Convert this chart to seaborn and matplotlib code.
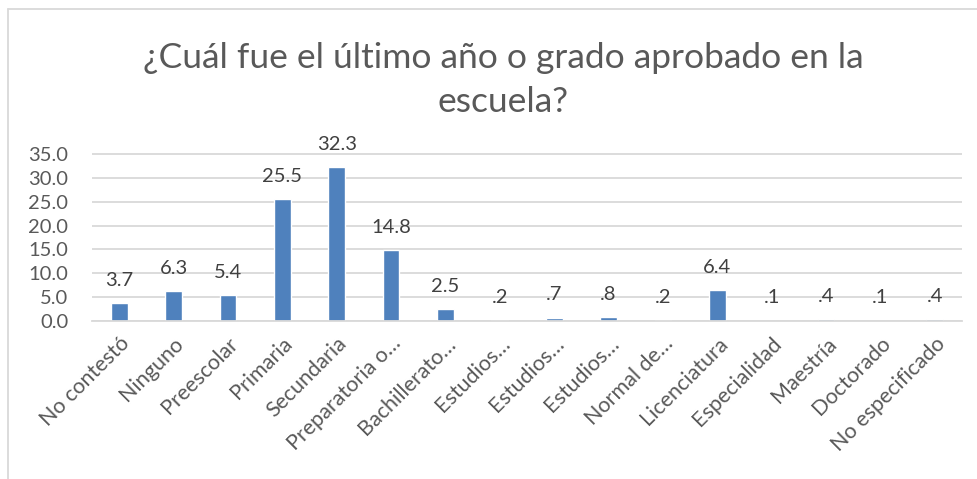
import matplotlib
matplotlib.use("Agg")
import matplotlib.pyplot as plt
import seaborn as sns
import pandas as pd
from matplotlib.lines import Line2D

categories = ["No contestó", "Ninguno", "Preescolar", "Primaria", "Secundaria",
              "Preparatoria o…", "Bachillerato…", "Estudios…", "Estudios… ",
              "Estudios…  ", "Normal de…", "Licenciatura", "Especialidad",
              "Maestría", "Doctorado", "No especificado"]
values = [3.7, 6.3, 5.4, 25.5, 32.3, 14.8, 2.5, 0.2, 0.7, 0.8, 0.2, 6.4, 0.1, 0.4, 0.1, 0.4]
yticks = [0, 5, 10, 15, 20, 25, 30, 35]
title_lines = ["¿Cuál fue el último año o grado aprobado en la", "escuela?"]

sns.set_theme(style="white")
plt.rcParams['font.family'] = ['Lato', 'DejaVu Sans']

df = pd.DataFrame({"cat": categories, "val": values})

fig = plt.figure(figsize=(9.77, 4.79), dpi=100)
ax = fig.add_axes([92/977, 1 - 321/479, (962-92)/977, 167/479 * 36.5/35])
sns.barplot(data=df, x="cat", y="val", color="#4F81BD", saturation=1, width=0.31, ax=ax)

ax.set_ylim(0, 36.5)
ax.set_xlim(-0.5, len(categories) - 0.5)
ax.set_yticks(yticks)
ax.set_yticklabels([f"{t:.1f}" for t in yticks], fontsize=14.5, color="#595959")
ax.yaxis.grid(True, color="#D9D9D9", linewidth=1.3)
ax.set_axisbelow(True)
for s in ["top", "right", "left"]:
    ax.spines[s].set_visible(False)
ax.spines["bottom"].set_color("#D9D9D9")
ax.spines["bottom"].set_linewidth(1.3)
ax.tick_params(axis="both", length=0)
ax.tick_params(axis="y", pad=17)
ax.set_xlabel("")
ax.set_ylabel("")
ax.set_xticks(range(len(categories)))
ax.set_xticklabels([c.strip() for c in categories], rotation=45, ha="right",
                   rotation_mode="anchor", fontsize=15.5, color="#595959")
ax.tick_params(axis="x", pad=9)

for i, v in enumerate(values):
    lab = f"{v:.1f}"
    if lab.startswith("0"):
        lab = lab[1:]
    ax.annotate(lab, (i, v), xytext=(0, 12.5), textcoords="offset points",
                ha="center", va="baseline", fontsize=14.5, color="#404040")

fig.text(0.515, 1 - 68/479, title_lines[0], ha="center", va="baseline",
         fontsize=25.5, color="#595959")
fig.text(0.515, 1 - 112/479, title_lines[1], ha="center", va="baseline",
         fontsize=25.5, color="#595959")

# outer chart border (left and top)
fig.add_artist(Line2D([8/977, 8/977], [0, 1 - 9/479], transform=fig.transFigure,
                      color="#D9D9D9", linewidth=1.3))
fig.add_artist(Line2D([8/977, 1], [1 - 9/479, 1 - 9/479], transform=fig.transFigure,
                      color="#D9D9D9", linewidth=1.3))

fig.savefig("out.png", dpi=100)
